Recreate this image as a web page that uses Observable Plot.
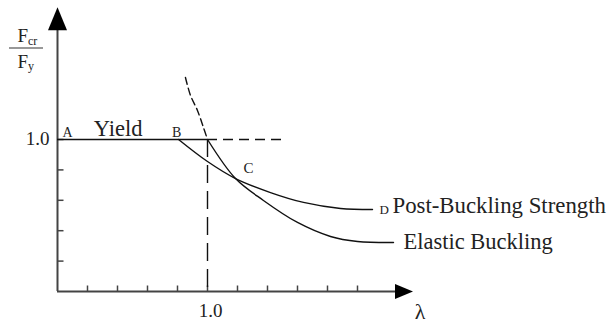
<!DOCTYPE html>
<html>
<head>
<meta charset="utf-8">
<script src="https://cdn.jsdelivr.net/npm/d3@7"></script>
<script src="https://cdn.jsdelivr.net/npm/@observablehq/plot@0.6"></script>
<style>
  body { margin: 0; background: #fff; }
</style>
</head>
<body>
<div id="chart"></div>
<script>
// Column strength curve: normalized critical stress Fcr/Fy against slenderness λ.

// Yield plateau (A–B and on to λ = 1), then its dashed extension
const plateauLevel = 1.0;
const plateauSolid = [0, 1.0];
const plateauDashed = [1.0, 1.52];

// Elastic (Euler) buckling curve: dashed above the plateau, solid beyond λ = 1
const elasticDashedLambda = [0.853, 0.887, 0.933, 0.973, 1.0];
const elasticDashedRatio  = [1.408, 1.289, 1.191, 1.079, 1.0];
const elasticLambda = [1.0, 1.187, 1.373, 1.6, 1.82, 2.0, 2.24];
const elasticRatio  = [1.0, 0.743, 0.599, 0.454, 0.362, 0.329, 0.322];

// Post-buckling strength curve B – C – D
const postLambda = [0.807, 1.0, 1.187, 1.42, 1.64, 1.887, 2.1];
const postRatio  = [1.0, 0.855, 0.743, 0.651, 0.586, 0.546, 0.539];

// Axes
const xTicks = [0.2, 0.4, 0.6, 0.8, 1.0, 1.2, 1.4, 1.6, 1.8, 2.0];
const yTicks = [0.2, 0.4, 0.6, 0.8, 1.0];
const xTickLabels = [{value: 1.0, label: "1.0"}];
const yTickLabels = [{value: 1.0, label: "1.0"}];
const xAxisEnd = 2.37;
const yAxisEnd = 1.87;
const refLambda = 1.0;

const toPoints = (xs, ys) => xs.map((x, i) => ({x, y: ys[i]}));
const elasticDashed = toPoints(elasticDashedLambda, elasticDashedRatio);
const elastic = toPoints(elasticLambda, elasticRatio);
const post = toPoints(postLambda, postRatio);

const pointA = {x: plateauSolid[0], y: plateauLevel, label: "A"};
const pointB = {x: postLambda[0], y: postRatio[0], label: "B"};
const pointC = {x: postLambda[2], y: postRatio[2], label: "C"};
const pointD = {x: postLambda[postLambda.length - 1], y: postRatio[postRatio.length - 1], label: "D"};
const elasticEnd = elastic[elastic.length - 1];

// Small custom symbols for arrowheads and tick marks (drawn in pixels)
const arrowUp = {draw(c) { c.moveTo(0, 0); c.lineTo(-9.5, 23); c.lineTo(9.5, 23); c.closePath(); }};
const arrowRight = {draw(c) { c.moveTo(0, 0); c.lineTo(-18, -7.5); c.lineTo(-18, 7.5); c.closePath(); }};
const tickRight = {draw(c) { c.moveTo(0, 0); c.lineTo(6, 0); }};
const tickUp = {draw(c) { c.moveTo(0, 0); c.lineTo(0, -6); }};

const axisColor = "#444";
const ink = "#111";
const serif = "Liberation Serif, Times New Roman, serif";

const chart = Plot.plot({
  width: 609,
  height: 324,
  marginLeft: 57,
  marginRight: 0,
  marginTop: 0,
  marginBottom: 33,
  x: {domain: [0, 3.68], axis: null},
  y: {domain: [0, 1.9145], axis: null},
  style: {fontFamily: serif, background: "#fff", color: ink},
  marks: [
    // axes with arrowheads
    Plot.ruleY([0], {x1: () => 0, x2: () => xAxisEnd - 0.05, stroke: axisColor, strokeWidth: 2}),
    Plot.ruleX([0], {y1: () => 0, y2: () => yAxisEnd - 0.1, stroke: axisColor, strokeWidth: 2}),
    Plot.dot([xAxisEnd], {x: d => d, y: () => 0, symbol: arrowRight, fill: "#000", stroke: "none"}),
    Plot.dot([yAxisEnd], {x: () => 0, y: d => d, symbol: arrowUp, fill: "#000", stroke: "none"}),
    Plot.dot(yTicks, {x: () => 0, y: d => d, symbol: tickRight, fill: "none", stroke: axisColor, strokeWidth: 1.5}),
    Plot.dot(xTicks, {x: d => d, y: () => 0, symbol: tickUp, fill: "none", stroke: axisColor, strokeWidth: 1.5}),
    Plot.text(yTickLabels, {x: () => 0, y: "value", text: "label", textAnchor: "end", lineAnchor: "bottom", dx: -8, dy: 5, fontSize: 19, fill: "#222"}),
    Plot.text(xTickLabels, {x: "value", y: () => 0, text: "label", textAnchor: "middle", lineAnchor: "bottom", dx: 3, dy: 25, fontSize: 19, fill: "#222"}),
    Plot.text(["λ"], {x: () => xAxisEnd, y: () => 0, text: d => d, textAnchor: "middle", lineAnchor: "bottom", dx: 7, dy: 27, fontSize: 22, fill: "#222"}),

    // reference lines at λ = 1 and Fcr/Fy = 1
    Plot.ruleX([refLambda], {y1: () => plateauLevel, y2: () => 0, stroke: ink, strokeWidth: 1.4, strokeDasharray: "18,8"}),
    Plot.ruleY([plateauLevel], {x1: () => plateauDashed[0], x2: () => plateauDashed[1], stroke: ink, strokeWidth: 1.4, strokeDasharray: "10,6"}),
    Plot.ruleY([plateauLevel], {x1: () => plateauSolid[0], x2: () => plateauSolid[1], stroke: ink, strokeWidth: 1.4}),

    // curves
    Plot.line(elasticDashed, {x: "x", y: "y", curve: "catmull-rom", stroke: ink, strokeWidth: 1.4, strokeDasharray: "7,4"}),
    Plot.line(elastic, {x: "x", y: "y", curve: "catmull-rom", stroke: ink, strokeWidth: 1.4}),
    Plot.line(post, {x: "x", y: "y", curve: "catmull-rom", stroke: ink, strokeWidth: 1.4}),

    // point letters
    Plot.text([pointA], {x: "x", y: "y", text: "label", textAnchor: "start", lineAnchor: "bottom", dx: 5, dy: -3, fontSize: 14, fill: "#222"}),
    Plot.text([pointB], {x: "x", y: "y", text: "label", textAnchor: "middle", lineAnchor: "bottom", dx: -2, dy: -3, fontSize: 14, fill: "#222"}),
    Plot.text([pointC], {x: "x", y: "y", text: "label", textAnchor: "start", lineAnchor: "bottom", dx: 8, dy: -6, fontSize: 15, fill: "#222"}),
    Plot.text([pointD], {x: "x", y: "y", text: "label", textAnchor: "start", lineAnchor: "bottom", dx: 7, dy: 4, fontSize: 13, fill: "#222"}),

    // curve names
    Plot.text(["Yield"], {x: () => (pointA.x + pointB.x) / 2, y: () => plateauLevel, text: d => d, textAnchor: "middle", lineAnchor: "bottom", dy: -4, fontSize: 22.5, fill: "#222"}),
    Plot.text(["Post-Buckling Strength"], {x: () => pointD.x, y: () => pointD.y, text: d => d, textAnchor: "start", lineAnchor: "bottom", dx: 20, dy: 3, fontSize: 22.8, fill: "#222"}),
    Plot.text(["Elastic Buckling"], {x: () => elasticEnd.x, y: () => elasticEnd.y, text: d => d, textAnchor: "start", lineAnchor: "bottom", dx: 10, dy: 6, fontSize: 22.5, fill: "#222"}),

    // y-axis quantity Fcr / Fy
    Plot.text(["F"], {frameAnchor: "top-left", text: d => d, textAnchor: "start", lineAnchor: "bottom", dx: -40, dy: 41, fontSize: 19, fill: "#222"}),
    Plot.text(["cr"], {frameAnchor: "top-left", text: d => d, textAnchor: "start", lineAnchor: "bottom", dx: -29.5, dy: 44, fontSize: 12, fill: "#222"}),
    Plot.text(["F"], {frameAnchor: "top-left", text: d => d, textAnchor: "start", lineAnchor: "bottom", dx: -40, dy: 67, fontSize: 19, fill: "#222"}),
    Plot.text(["y"], {frameAnchor: "top-left", text: d => d, textAnchor: "start", lineAnchor: "bottom", dx: -29.5, dy: 69, fontSize: 12, fill: "#222"})
  ]
});

// fraction bar between Fcr and Fy
d3.select(chart).append("line")
  .attr("x1", 9).attr("x2", 43).attr("y1", 48).attr("y2", 48)
  .attr("stroke", "#333").attr("stroke-width", 1.2);

document.getElementById("chart").appendChild(chart);
</script>
</body>
</html>
